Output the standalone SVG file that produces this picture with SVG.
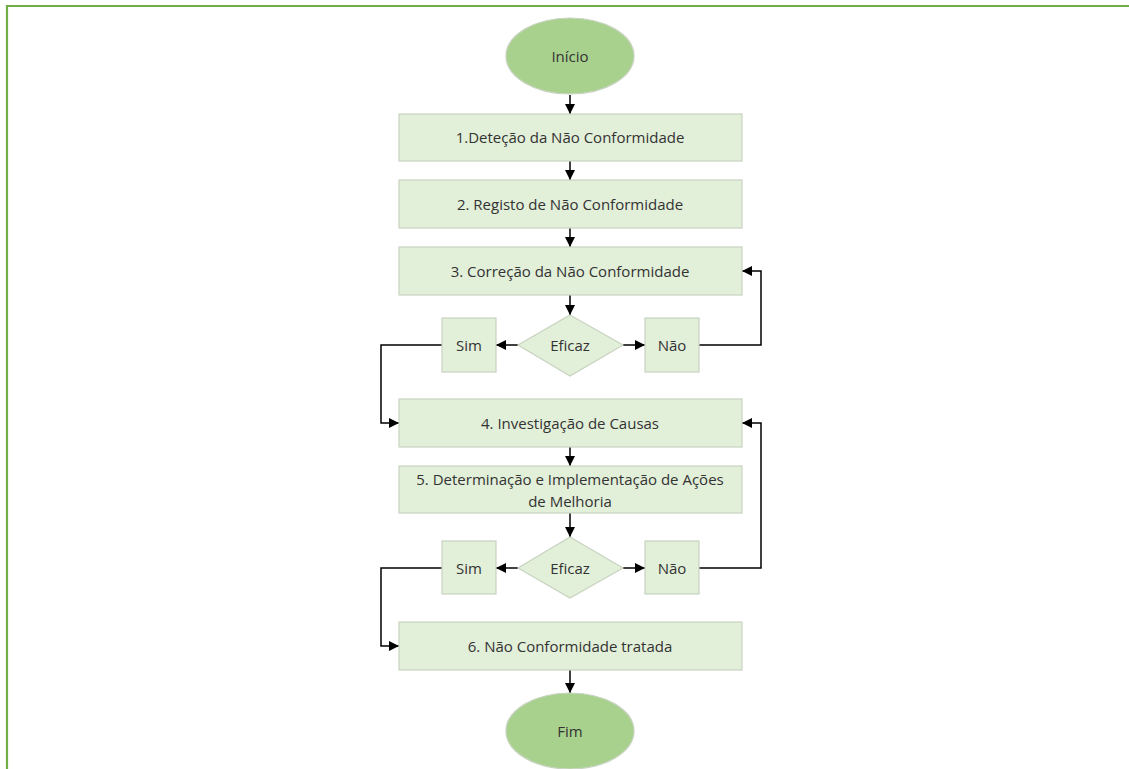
<svg xmlns="http://www.w3.org/2000/svg" width="1129" height="769" viewBox="0 0 1129 769">
<defs>
<marker id="ah" viewBox="0 0 10 10" refX="10" refY="5" markerWidth="10" markerHeight="10" markerUnits="userSpaceOnUse" orient="auto">
<path d="M0,0 L10,5 L0,10 Z" fill="#000"/>
</marker>
<style>
.box{fill:#e2efd9;stroke:#c8d3c0;stroke-width:1.2}
.term{fill:#a9d18e;stroke:#c8d3c0;stroke-width:1.2}
.t{font-family:"Open Sans","Liberation Sans",sans-serif;font-size:15px;fill:#333;text-anchor:middle;dominant-baseline:central}
.c{fill:none;stroke:#000;stroke-width:1.5}
</style>
</defs>
<rect x="0" y="0" width="1129" height="769" fill="#fff"/>
<path d="M7,769 L7,6 L1129,6" fill="none" stroke="#70ad47" stroke-width="2.2"/>
<g id="connectors">
<line class="c" x1="570" y1="95" x2="570" y2="114" marker-end="url(#ah)"/>
<line class="c" x1="570" y1="161" x2="570" y2="180" marker-end="url(#ah)"/>
<line class="c" x1="570" y1="228" x2="570" y2="247" marker-end="url(#ah)"/>
<line class="c" x1="570" y1="295" x2="570" y2="315" marker-end="url(#ah)"/>
<line class="c" x1="518" y1="345" x2="496" y2="345" marker-end="url(#ah)"/>
<line class="c" x1="623" y1="345" x2="645" y2="345" marker-end="url(#ah)"/>
<polyline class="c" points="699,345 761,345 761,271 742,271" marker-end="url(#ah)"/>
<polyline class="c" points="442,345 381,345 381,423 399,423" marker-end="url(#ah)"/>
<line class="c" x1="570" y1="447" x2="570" y2="466" marker-end="url(#ah)"/>
<line class="c" x1="570" y1="513" x2="570" y2="537" marker-end="url(#ah)"/>
<line class="c" x1="518" y1="568" x2="496" y2="568" marker-end="url(#ah)"/>
<line class="c" x1="623" y1="568" x2="645" y2="568" marker-end="url(#ah)"/>
<polyline class="c" points="699,568 761,568 761,423 742,423" marker-end="url(#ah)"/>
<polyline class="c" points="442,568 381,568 381,646 399,646" marker-end="url(#ah)"/>
<line class="c" x1="570" y1="670" x2="570" y2="693" marker-end="url(#ah)"/>
</g>
<g id="inicio"><ellipse class="term" cx="570" cy="56" rx="64" ry="38"/><text class="t" x="570" y="56">Início</text></g>
<g id="step1"><rect class="box" x="399" y="114" width="343" height="47"/><text class="t" x="570" y="137">1.Deteção da Não Conformidade</text></g>
<g id="step2"><rect class="box" x="399" y="180" width="343" height="48"/><text class="t" x="570" y="204">2. Registo de Não Conformidade</text></g>
<g id="step3"><rect class="box" x="399" y="247" width="343" height="48"/><text class="t" x="570" y="271">3. Correção da Não Conformidade</text></g>
<g id="eficaz1"><polygon class="box" points="570,315 623,345 570,376 518,345"/><text class="t" x="570" y="345">Eficaz</text></g>
<g id="sim1"><rect class="box" x="442" y="318" width="54" height="54"/><text class="t" x="469" y="345">Sim</text></g>
<g id="nao1"><rect class="box" x="645" y="318" width="54" height="54"/><text class="t" x="672" y="345">Não</text></g>
<g id="step4"><rect class="box" x="399" y="399" width="343" height="48"/><text class="t" x="570" y="423">4. Investigação de Causas</text></g>
<g id="step5"><rect class="box" x="399" y="466" width="343" height="47"/><text class="t" x="570" y="479">5. Determinação e Implementação de Ações</text><text class="t" x="570" y="501">de Melhoria</text></g>
<g id="eficaz2"><polygon class="box" points="570,537 623,568 570,598 518,568"/><text class="t" x="570" y="568">Eficaz</text></g>
<g id="sim2"><rect class="box" x="442" y="541" width="54" height="53"/><text class="t" x="469" y="568">Sim</text></g>
<g id="nao2"><rect class="box" x="645" y="541" width="54" height="53"/><text class="t" x="672" y="568">Não</text></g>
<g id="step6"><rect class="box" x="399" y="622" width="343" height="48"/><text class="t" x="570" y="646">6. Não Conformidade tratada</text></g>
<g id="fim"><ellipse class="term" cx="570" cy="731" rx="64" ry="38"/><text class="t" x="570" y="731">Fim</text></g>
</svg>
